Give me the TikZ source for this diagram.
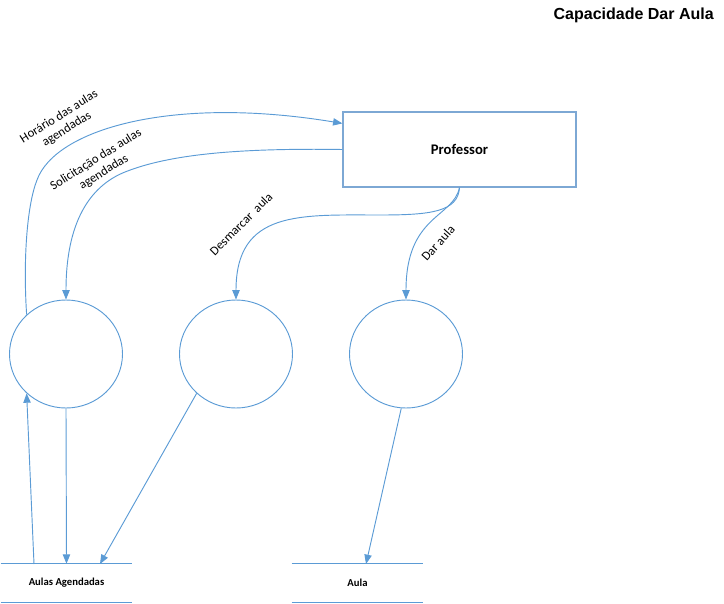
\documentclass[tikz,border=0pt]{standalone}
\usepackage{fontspec}
\setmainfont{Carlito}
\newfontfamily\titlefont{Liberation Sans}
\usetikzlibrary{arrows.meta,shapes.geometric}
\definecolor{lineblue}{RGB}{91,155,213}
\definecolor{boxblue}{RGB}{125,168,212}
\begin{document}
\begin{tikzpicture}[x=0.75pt,y=-0.75pt,
 flow/.style={draw=lineblue,line width=0.7pt,-{Triangle[length=7pt,width=5.5pt]}},
 plain/.style={draw=lineblue,line width=0.9pt},
 proc/.style={ellipse,draw=lineblue,line width=0.7pt,minimum width=84.75pt,minimum height=81pt,inner sep=0pt},
 ext/.style={rectangle,draw=boxblue,line width=0.9pt,minimum width=174.75pt,minimum height=56.25pt,font=\fontsize{11}{13}\selectfont\bfseries},
 storetxt/.style={minimum width=98.25pt,minimum height=28.5pt,inner sep=0pt,font=\fontsize{8}{10}\selectfont\bfseries},
 lbl/.style={font=\fontsize{9.5}{11}\selectfont,align=center,inner sep=0pt}]
\useasboundingbox (0,0) rectangle (724,603);

\node[font={\titlefont\fontsize{12}{14}\selectfont\bfseries},anchor=east,inner sep=0pt] (title) at (714,15) {Capacidade Dar Aula};

\node[ext] (prof) at (459.5,149.5) {Professor};

\node[proc] (c1) at (66,354) {};
\node[proc] (c2) at (236,354) {};
\node[proc] (c3) at (406,354) {};

\node[storetxt] (aa) at (66.5,583) {Aulas Agendadas};
\node[storetxt] (au) at (357.5,583) {Aula};
\draw[plain] (aa.north west) -- (aa.north east);
\draw[plain] (aa.south west) -- (aa.south east);
\draw[plain] (au.north west) -- (au.north east);
\draw[plain] (au.south west) -- (au.south east);

% flows
\draw[flow] (c1.135) .. controls (23,260) and (27,205) .. (37,180)
  .. controls (55,130) and (170,95) .. ([yshift=-9pt]prof.north west);
\draw[flow] (prof.west) .. controls (240,148) and (170,154) .. (125,172)
  .. controls (95,184) and (66,215) .. (c1.north);
\draw[flow] (prof.south) .. controls (458,212) and (430,215) .. (380,215)
  .. controls (300,215) and (236,210) .. (c2.north);
\draw[flow] (prof.south) .. controls (453,218) and (406,215) .. (c3.north);

\coordinate (aaUp) at (34,564);
\coordinate (aaIn) at (100,564);
\coordinate (auIn) at (366,564);
\draw[flow] (c1.south) -- (aa.north);
\draw[flow] (aaUp) -- (c1.225);
\draw[flow] (c2.225) -- (aaIn);
\draw[flow] (c3.265) -- (auIn);

% labels
\node[lbl,rotate=32] (lh) at (63,123) {Horário das aulas\\agendadas};
\node[lbl,rotate=32] (ls) at (100,166) {Solicitação das aulas\\agendadas};
\node[lbl,rotate=45] (ld) at (241,224) {Desmarcar\ \ aula};
\node[lbl,rotate=48] (lr) at (438,243) {Dar aula};
\end{tikzpicture}
\end{document}
